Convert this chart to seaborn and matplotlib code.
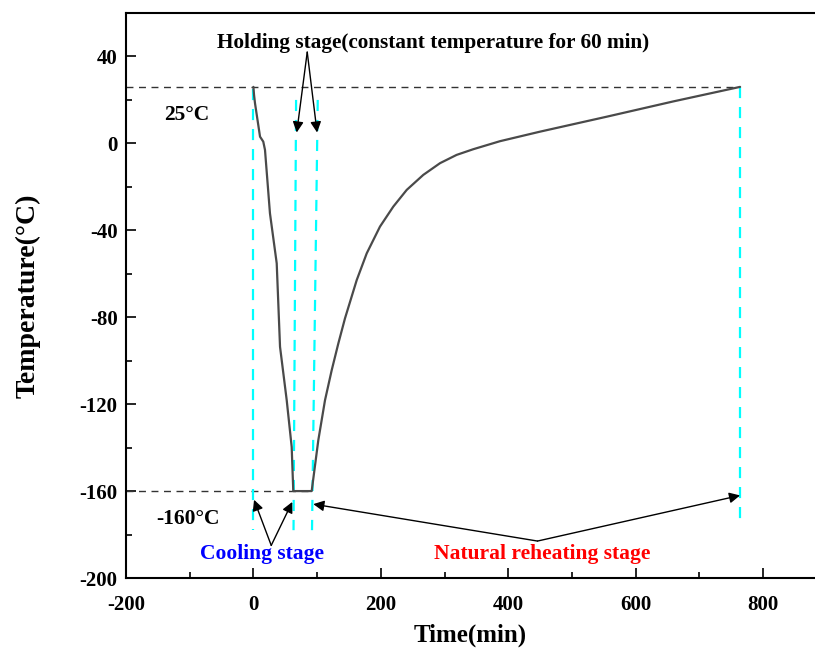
import matplotlib
matplotlib.use("Agg")
import matplotlib.pyplot as plt
from matplotlib import font_manager as fm
from matplotlib.ticker import MultipleLocator
import seaborn as sns
import pandas as pd

# temperature history
time_min = [0, 1, 2.5, 10.4, 15.5, 18.2, 26, 36.6, 41.8, 52.3, 60.1, 62.6,
            91.5, 101.9, 112.4, 122.9, 133.3, 143.8, 162.2, 177.9, 198.7, 219.6,
            240.7, 266.7, 293, 319, 345, 387, 450, 555, 659, 764]
temp_c = [26, 22.3, 18.5, 3.1, 0.8, -3, -32.2, -55.2, -93.6, -118.2, -139.7, -160,
          -160, -136.6, -118.2, -104.4, -92.1, -80.5, -62.9, -50.6, -38.3, -29.1,
          -21.4, -14.5, -9.1, -5.3, -2.7, 1, 5.4, 12.3, 19.3, 26]

# stage boundaries (cyan guides): (t_top, T_top, t_bottom, T_bottom)
guides = [(0, 25, 0, -178), (67, 20, 63, -178), (101, 20, 92, -178), (764, 26, 764, -176)]

df = pd.DataFrame({"Time": time_min, "Temp": temp_c})

sns.set_style("ticks", {"axes.edgecolor": "black", "text.color": "black",
                        "xtick.color": "black", "ytick.color": "black",
                        "axes.labelcolor": "black"})

# pick a bold Times-like face
serif = "DejaVu Serif"
for f in fm.fontManager.ttflist:
    if f.name == "Liberation Serif" and f.weight in (700, "bold") and f.style == "normal":
        serif = "Liberation Serif"
        break
plt.rcParams["font.family"] = [serif, "DejaVu Serif"]
plt.rcParams["font.weight"] = "bold"
plt.rcParams["axes.unicode_minus"] = False

fig = plt.figure(figsize=(8.15, 6.52), dpi=100)
ax = fig.add_axes([126 / 815, 1 - 578 / 652, 700.7 / 815, (578 - 13) / 652])

# reference dashed levels
ax.plot([-200, 764], [26, 26], ls=(0, (5, 4)), color="#333333", lw=1)
ax.plot([-200, 92], [-160, -160], ls=(0, (5, 4)), color="#333333", lw=1)

for t0, y0, t1, y1 in guides:
    ax.plot([t0, t1], [y0, y1], ls=(0, (5, 4)), color="#00ffff", lw=1.6)

sns.lineplot(data=df, x="Time", y="Temp", ax=ax, color="#4a4a4a", lw=1.6,
             sort=False, estimator=None)

ax.set_xlim(-200, 900)
ax.set_ylim(-200, 60)
ax.xaxis.set_major_locator(MultipleLocator(200))
ax.xaxis.set_minor_locator(MultipleLocator(100))
ax.yaxis.set_major_locator(MultipleLocator(40))
ax.yaxis.set_minor_locator(MultipleLocator(20))
ax.tick_params(which="both", direction="in", width=1.2, labelsize=15)
ax.tick_params(which="major", length=7)
ax.tick_params(which="minor", length=4)
ax.tick_params(axis="x", pad=12)
ax.tick_params(axis="y", pad=6)
for lab in ax.get_xticklabels() + ax.get_yticklabels():
    lab.set_fontweight("bold")
for s in ax.spines.values():
    s.set_linewidth(1.5)

ax.set_xlabel("Time(min)", fontsize=18, fontweight="bold")
ax.set_ylabel("Temperature(°C)", fontsize=20, fontweight="bold")
ax.xaxis.set_label_coords(0.491, -0.08)
ax.yaxis.set_label_coords(-0.122, 0.5)

arrow = dict(arrowstyle="-|>", color="black", lw=1, mutation_scale=16, shrinkA=0, shrinkB=0)

ax.text(282, 46, "Holding stage(constant temperature for 60 min)",
        ha="center", va="center", fontsize=15.3, fontweight="bold")
for tx in (68, 100):
    ax.annotate("", xy=(tx, 5), xytext=(84.5, 42), arrowprops=arrow)

ax.text(-104, 13, "25°C", ha="center", va="center", fontsize=15.5, fontweight="bold")
ax.text(-103, -173, "-160°C", ha="center", va="center", fontsize=15.5, fontweight="bold")

ax.text(13, -189, "Cooling stage", ha="center", va="center", fontsize=15.5,
        fontweight="bold", color="#0000ff")
for tx, ty in ((1, -164), (61, -165)):
    ax.annotate("", xy=(tx, ty), xytext=(28, -185), arrowprops=arrow)

ax.text(454, -189, "Natural reheating stage", ha="center", va="center", fontsize=15.5,
        fontweight="bold", color="#ff0000")
for tx, ty in ((94, -166), (764, -162)):
    ax.annotate("", xy=(tx, ty), xytext=(446, -183), arrowprops=arrow)

fig.savefig("out.png", dpi=100)
